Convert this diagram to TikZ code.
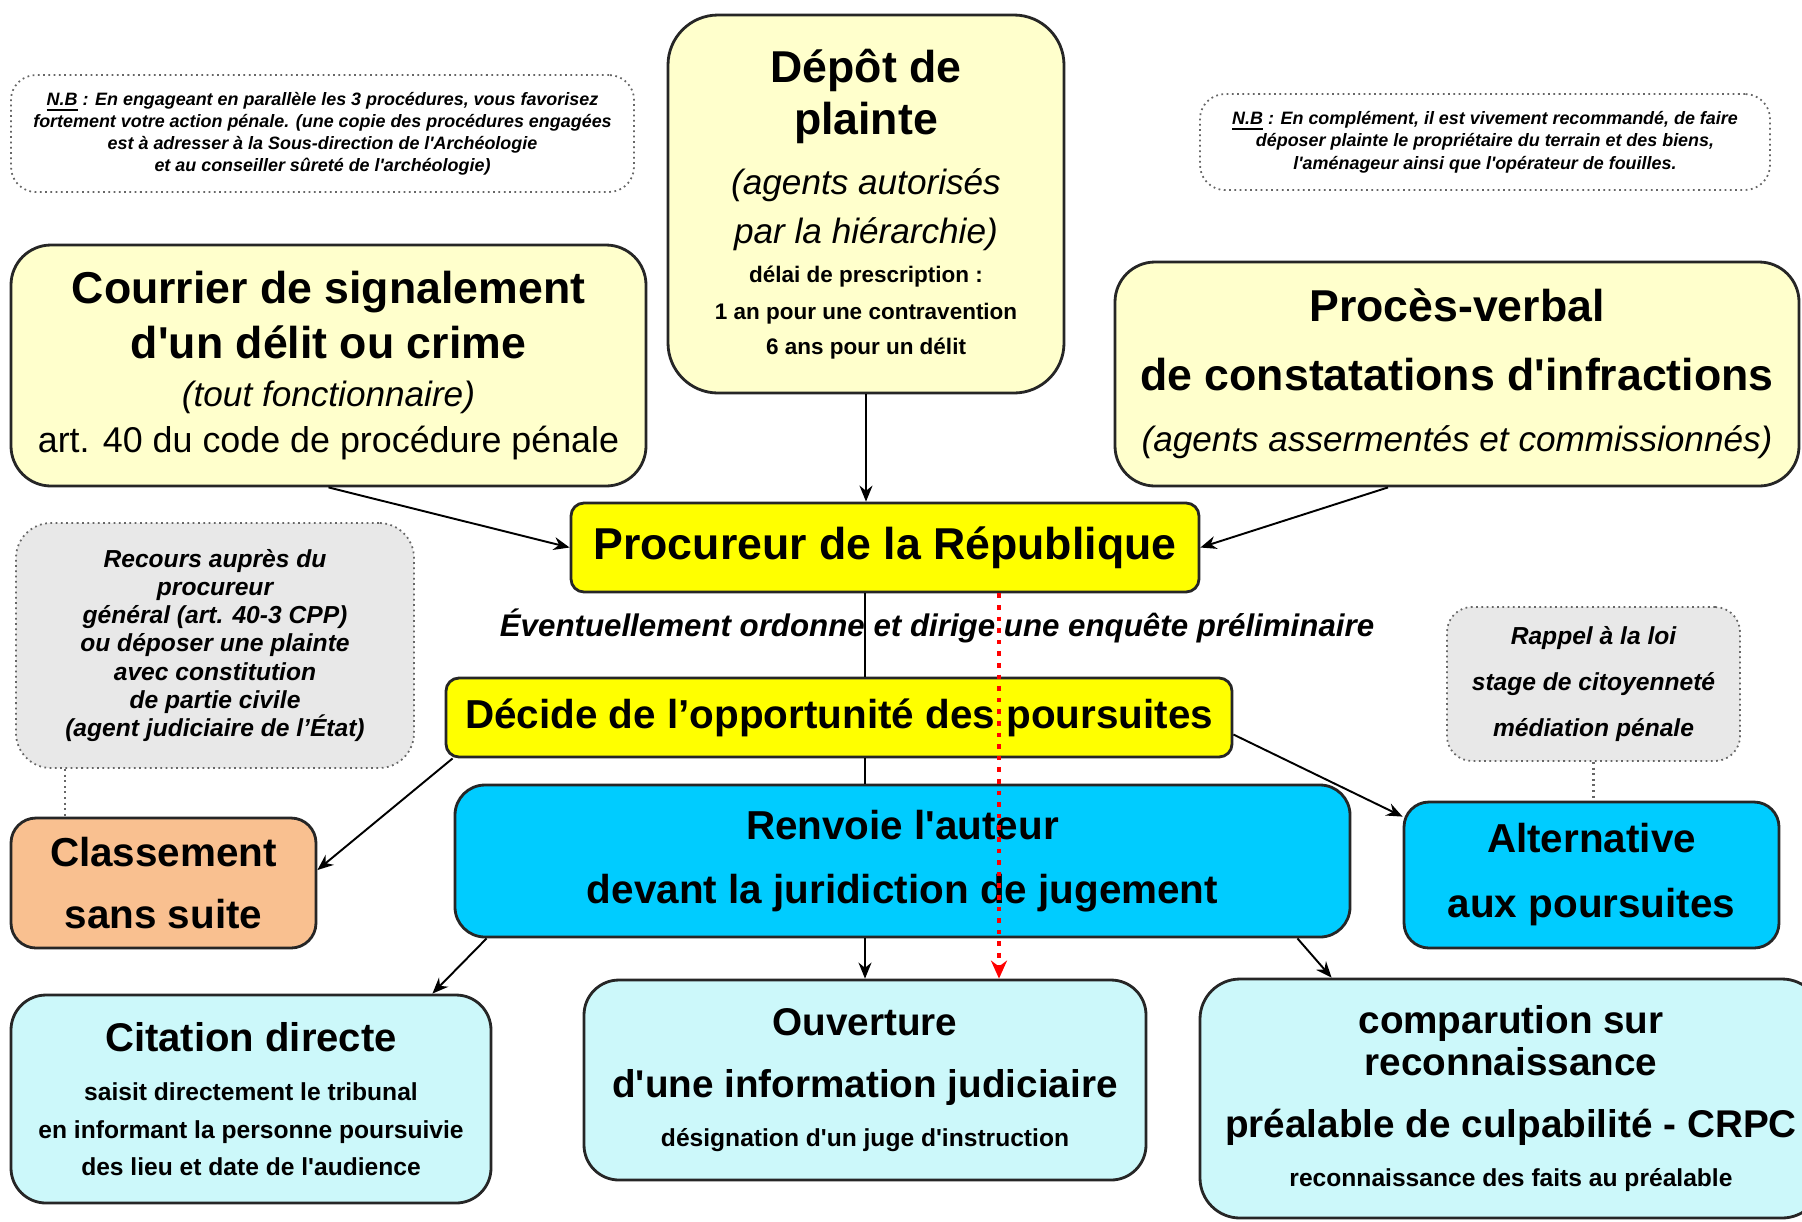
\documentclass[tikz,border=0pt]{standalone}
\usepackage{fontspec}
\setmainfont{Liberation Sans}[Ligatures=TeXOff]
\usetikzlibrary{arrows.meta}
\setlength{\parindent}{0pt}
\definecolor{creme}{HTML}{FFFFCC}
\definecolor{jaune}{HTML}{FFFF00}
\definecolor{cyanvif}{HTML}{00CCFF}
\definecolor{cyanpale}{HTML}{CCF8FA}
\definecolor{peche}{HTML}{F9C090}
\definecolor{grisclair}{HTML}{E8E8E8}
\newcommand{\ligne}[3]{{\fontsize{#1}{#2}\selectfont #3\par}}
\tikzstyle{boite} = [draw=black!85, line width=0.8pt, inner sep=0pt, align=flush center]
\tikzstyle{note} = [draw=black!60, densely dotted, line width=0.5pt, inner sep=0pt, align=flush center, rounded corners=2.5mm]
\tikzstyle{fleche} = [-{Stealth[length=1.6mm,width=1.3mm]}, line width=0.55pt]
\tikzstyle{trait} = [line width=0.55pt]
\tikzstyle{lien} = [draw=black!60, densely dotted, line width=0.6pt]
\tikzstyle{pointille} = [draw=red, dotted, line width=1.3pt, -{Stealth[length=1.8mm,width=1.6mm]}]
\tikzset{taille/.style 2 args={minimum width=#1mm, minimum height=#2mm, text width=#1mm}}

\begin{document}
\begin{tikzpicture}[x=1mm, y=-1mm]
\useasboundingbox (0,0) rectangle (180.2,122.1);
% notes du haut
\node[note, fill=white, taille={62.3}{11.7}] (nb1) at (32.25,13.35) {
  \ligne{5.1}{6.3}{\bfseries\itshape \underline{N.B} : En engageant en parallèle les 3 procédures, vous favorisez\\fortement votre action pénale. (une copie des procédures engagées\\est à adresser à la Sous-direction de l'Archéologie\\et au conseiller sûreté de l'archéologie)}};
\node[note, fill=white, taille={57.0}{9.6}] (nb2) at (148.5,14.2) {
  \ligne{5.1}{6.4}{\bfseries\itshape \underline{N.B} : En complément, il est vivement recommandé, de faire\\déposer plainte le propriétaire du terrain et des biens,\\l'aménageur ainsi que l'opérateur de fouilles.}};
% saisines
\node[boite, fill=creme, rounded corners=5mm, taille={39.6}{37.8}] (depot) at (86.6,20.4) {
  \ligne{12.7}{14.8}{\bfseries Dépôt de\\plainte}
  \ligne{10}{17.3}{\itshape (agents autorisés}
  \ligne{10}{13.9}{\itshape par la hiérarchie)}
  \ligne{6.4}{11}{\bfseries délai de prescription :}
  \ligne{6.4}{10.5}{\bfseries 1 an pour une contravention}
  \ligne{6.4}{10}{\bfseries 6 ans pour un délit}};
\node[boite, fill=creme, rounded corners=4mm, taille={63.5}{24.1}] (courrier) at (32.85,36.55) {
  \ligne{12.7}{15.6}{\bfseries Courrier de signalement\\d'un délit ou crime}
  \ligne{10}{13.6}{\itshape (tout fonctionnaire)}
  \ligne{10.2}{13.1}{art. 40 du code de procédure pénale}};
\node[boite, fill=creme, rounded corners=4mm, taille={68.4}{22.4}] (pv) at (145.7,37.4) {
  \ligne{12.7}{19.6}{\bfseries Procès-verbal\\de constatations d'infractions}
  \ligne{10}{17.3}{\itshape (agents assermentés et commissionnés)}};
% parquet
\node[boite, fill=jaune, rounded corners=1.3mm, taille={62.8}{8.9}] (procureur) at (88.5,54.75) {
  \ligne{12.7}{15}{\bfseries Procureur de la République}};
\node[font=\fontsize{8.9}{10}\selectfont\bfseries\itshape] (enquete) at (93.7,62.6) {Éventuellement ordonne et dirige une enquête préliminaire};
\node[boite, fill=jaune, rounded corners=1.3mm, taille={78.6}{7.9}] (decide) at (83.9,71.75) {
  \ligne{11.5}{14}{\bfseries Décide de l’opportunité des poursuites}};
\node[note, fill=grisclair, rounded corners=3.5mm, taille={39.8}{24.5}] (recours) at (21.5,64.55) {
  \ligne{7}{8}{\bfseries\itshape Recours auprès du\\procureur\\général (art. 40-3 CPP)\\ou déposer une plainte\\avec constitution\\de partie civile\\(agent judiciaire de l’État)}};
\node[note, fill=grisclair, taille={29.3}{15.4}] (rappel) at (159.35,68.4) {
  \ligne{7}{13.2}{\bfseries\itshape Rappel à la loi\\stage de citoyenneté\\médiation pénale}};
% suites
\node[boite, fill=peche, rounded corners=2.5mm, taille={30.5}{13.0}] (classement) at (16.35,88.3) {
  \ligne{11.5}{17.9}{\bfseries Classement\\sans suite}};
\node[boite, fill=cyanvif, rounded corners=3mm, taille={89.5}{15.2}] (renvoie) at (90.25,86.1) {
  \ligne{11.5}{18.2}{\bfseries Renvoie l'auteur\\devant la juridiction de jugement}};
\node[boite, fill=cyanvif, rounded corners=2.5mm, taille={37.5}{14.6}] (alternative) at (159.15,87.5) {
  \ligne{11.5}{18.5}{\bfseries Alternative\\aux poursuites}};
\node[boite, fill=cyanpale, rounded corners=3.5mm, taille={48.0}{20.8}] (citation) at (25.1,109.9) {
  \ligne{11.4}{14}{\bfseries Citation directe}
  \ligne{7}{14.1}{\bfseries saisit directement le tribunal}
  \ligne{7}{10.6}{\bfseries en informant la personne poursuivie\\des lieu et date de l'audience}};
\node[boite, fill=cyanpale, rounded corners=3.5mm, taille={56.2}{20.0}] (ouverture) at (86.5,108.0) {
  \ligne{11}{17.9}{\bfseries Ouverture\\d'une information judiciaire}
  \ligne{7}{13.9}{\bfseries désignation d'un juge d'instruction}};
\node[boite, fill=cyanpale, rounded corners=4mm, taille={62.2}{23.9}] (crpc) at (151.1,109.85) {
  \ligne{11}{12}{\bfseries comparution sur\\reconnaissance}
  \ligne{11}{17.6}{\bfseries préalable de culpabilité - CRPC}
  \ligne{7}{13.9}{\bfseries reconnaissance des faits au préalable}};
% liaisons
\draw[fleche] (courrier.south) -- (procureur.west);
\draw[fleche] ([xshift=-6.9mm]pv.south) -- (procureur.east);
\draw[fleche] (depot.south) -- (depot.south |- procureur.north);
\draw[trait] (procureur.south -| ouverture.north) -- (decide.north -| ouverture.north);
\draw[trait] (decide.south -| ouverture.north) -- (renvoie.north -| ouverture.north);
\draw[fleche] (renvoie.south -| ouverture.north) -- (ouverture.north);
\draw[fleche] ([xshift=0.8mm]decide.south west) -- ([yshift=1.3mm]classement.east);
\draw[fleche] ([yshift=-1.7mm]decide.east) -- ([yshift=-1.6mm]alternative.north west);
\draw[fleche] ([xshift=3.3mm]renvoie.south west) -- ([xshift=-6mm]citation.north east);
\draw[fleche] ([xshift=-5.4mm]renvoie.south east) -- ([xshift=13.3mm]crpc.north west);
\draw[lien] ([xshift=5mm]recours.south west) -- ([xshift=5mm]recours.south west |- classement.north);
\draw[lien] (rappel.south) -- (rappel.south |- alternative.north);
\coordinate (rouge) at ([xshift=13.4mm]ouverture.north);
\draw[pointille] (procureur.south -| rouge) -- (rouge);
\end{tikzpicture}
\end{document}
